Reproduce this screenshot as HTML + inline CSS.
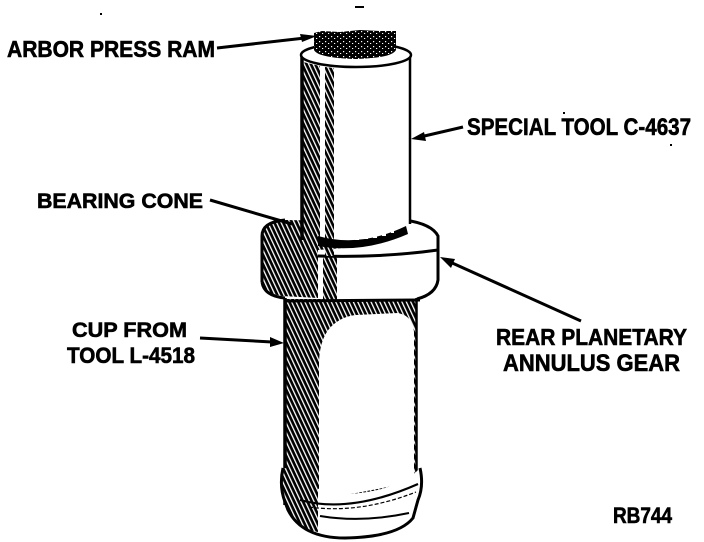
<!DOCTYPE html>
<html>
<head>
<meta charset="utf-8">
<style>
  html, body { margin:0; padding:0; background:#fff; }
  body { width:704px; height:542px; overflow:hidden; }
  svg { display:block; }
  .lbl { font-family: "Liberation Sans", "DejaVu Sans", sans-serif; font-weight: bold; fill:#000; stroke:#000; stroke-width:0.6; }
</style>
</head>
<body>
<svg width="704" height="542" viewBox="0 0 704 542" xmlns="http://www.w3.org/2000/svg">
  <defs>
    <pattern id="h" width="4" height="4" patternUnits="userSpaceOnUse" patternTransform="rotate(-25)">
      <rect width="4" height="4" fill="#000"/>
      <rect x="0" y="0" width="1.3" height="4" fill="#fff"/>
    </pattern>
    <pattern id="d" width="6" height="5" patternUnits="userSpaceOnUse">
      <rect width="6" height="5" fill="#000"/>
      <rect x="1" y="1" width="1.2" height="1.2" fill="#fff"/>
      <rect x="4" y="3" width="1.2" height="1" fill="#fff"/>
    </pattern>
  </defs>

  <rect width="704" height="542" fill="#fff"/>

  <!-- stray specks -->
  <rect x="355" y="6" width="9" height="2" fill="#000"/>
  <rect x="100" y="13" width="2" height="2" fill="#000"/>
  <rect x="563" y="112" width="2" height="2" fill="#000"/>
  <rect x="670" y="144" width="2" height="2" fill="#000"/>

  <!-- ===== Lower cylinder (cup) ===== -->
  <rect x="285" y="298" width="132" height="200" fill="#fff"/>
  <path d="M285,299 L417,299 L417,500 L285,500 Z" fill="url(#h)"/>
  <path d="M319,500 L319,362 Q320,335 334,324 Q344,316 356,315 L398,313 Q413,316 414,332 L414,482 Z" fill="#fff"/>
  <line x1="285" y1="298" x2="285" y2="505" stroke="#000" stroke-width="3.5"/>
  <line x1="416.5" y1="298" x2="416.5" y2="485" stroke="#000" stroke-width="2.5"/>

  <!-- flange / bottom -->
  <path d="M283,468 Q279,486 285,502 L288,510 Q302,538 345,538 Q398,537 413,518 L418,500 Q424,486 420,468 Q400,490 350,494 Q300,490 283,468 Z" fill="#fff"/>
  <path d="M283,468 Q279,486 285,502 L288,510 Q300,530 318,532 L318,470 Z" fill="url(#h)"/>
  <path d="M283,468 Q279,486 285,502 L288,510 Q302,538 345,538 Q398,537 413,518 L418,500 Q424,486 420,468" fill="none" stroke="#000" stroke-width="3"/>
  <path d="M300,500 Q350,514 418,484" fill="none" stroke="#000" stroke-width="2.2"/>
  <path d="M309,507 Q360,514 416,492" fill="none" stroke="#000" stroke-width="1.2" stroke-dasharray="4 2"/>
  <path d="M320,516 Q362,523 409,513" fill="none" stroke="#000" stroke-width="2"/>

  <!-- ===== Gear ===== -->
  <path d="M262,235 A88,20 0 0 1 438,235 L438,282 A88,18 0 0 1 262,282 Z" fill="#fff"/>
  <path d="M262,236 Q262,222 285,220 L340,221 L343,248 L318,250 L318,298 L282,296 Q263,293 262,282 Z" fill="url(#h)"/>
  <path d="M323,256 L337,256 L337,301 L323,301 Z" fill="url(#h)"/>
  <path d="M262,282 L262,236 Q262,222 285,220" fill="none" stroke="#000" stroke-width="3"/>
  <path d="M405,220 Q432,224 438,236 L438,280 Q436,294 417,299" fill="none" stroke="#000" stroke-width="3"/>
  <path d="M262,282 Q264,296 285,298" fill="none" stroke="#000" stroke-width="3"/>
  <path d="M318,256 Q380,258 438,250" fill="none" stroke="#000" stroke-width="3"/>
  <line x1="284" y1="301" x2="420" y2="300" stroke="#000" stroke-width="3"/>

  <!-- ===== Upper cylinder (special tool) ===== -->
  <path d="M302,55 L302,238 Q352,250 410,224 L410,55 Z" fill="#fff"/>
  <path d="M303,62 L320,66 L320,244 L303,240 Z" fill="url(#h)"/>
  <path d="M325,67 L334,68 L334,256 L325,256 Z" fill="url(#h)"/>
  <path d="M318,236 Q360,248 406,226 L408,234 Q362,254 318,246 Z" fill="#000"/>
  <rect x="346" y="236" width="4" height="4" fill="#fff"/>
  <rect x="355" y="236" width="4" height="4" fill="#fff"/>
  <rect x="364" y="235" width="4" height="4" fill="#fff"/>
  <rect x="373" y="234" width="4" height="4" fill="#fff"/>
  <rect x="382" y="232" width="4" height="4" fill="#fff"/>
  <rect x="391" y="230" width="3" height="3" fill="#fff"/>
  <line x1="302" y1="55" x2="302" y2="240" stroke="#000" stroke-width="3.5"/>
  <line x1="410" y1="52" x2="410" y2="224" stroke="#000" stroke-width="2.5"/>
  <ellipse cx="356" cy="55" rx="55" ry="12" fill="#fff" stroke="#000" stroke-width="2.5"/>

  <!-- ram -->
  <path d="M314,33 L322,31 L340,32 L360,30 L380,31 L396,31 L396,50 Q392,58 356,59 Q318,58 314,50 Z" fill="url(#d)"/>

  <!-- ===== Leaders ===== -->
  <line x1="217" y1="48" x2="305" y2="38" stroke="#000" stroke-width="3"/>
  <polygon points="317,36 300,34 302,42" fill="#000"/>
  <line x1="463" y1="127" x2="420" y2="137" stroke="#000" stroke-width="3"/>
  <polygon points="411,139 424,132 426,141" fill="#000"/>
  <line x1="210" y1="200" x2="292" y2="224" stroke="#000" stroke-width="3"/>
  <line x1="200" y1="338" x2="272" y2="342" stroke="#000" stroke-width="3"/>
  <polygon points="284,343 270,337 270,347" fill="#000"/>
  <line x1="450" y1="262" x2="581" y2="321" stroke="#000" stroke-width="3"/>
  <polygon points="440,257 455,259 451,268" fill="#000"/>

  <!-- ===== Labels ===== -->
  <text class="lbl" x="7" y="57" font-size="23" textLength="208" lengthAdjust="spacingAndGlyphs">ARBOR PRESS RAM</text>
  <text class="lbl" x="467" y="135" font-size="24" textLength="224" lengthAdjust="spacingAndGlyphs">SPECIAL TOOL C-4637</text>
  <text class="lbl" x="37" y="208" font-size="21" textLength="166" lengthAdjust="spacingAndGlyphs">BEARING CONE</text>
  <text class="lbl" x="72" y="337" font-size="21" textLength="115" lengthAdjust="spacingAndGlyphs">CUP FROM</text>
  <text class="lbl" x="67" y="363" font-size="22" textLength="128" lengthAdjust="spacingAndGlyphs">TOOL L-4518</text>
  <text class="lbl" x="496" y="345" font-size="23" textLength="191" lengthAdjust="spacingAndGlyphs">REAR PLANETARY</text>
  <text class="lbl" x="503" y="371" font-size="24" textLength="177" lengthAdjust="spacingAndGlyphs">ANNULUS GEAR</text>
  <text class="lbl" x="613" y="523" font-size="22" textLength="59" lengthAdjust="spacingAndGlyphs">RB744</text>
</svg>
</body>
</html>
